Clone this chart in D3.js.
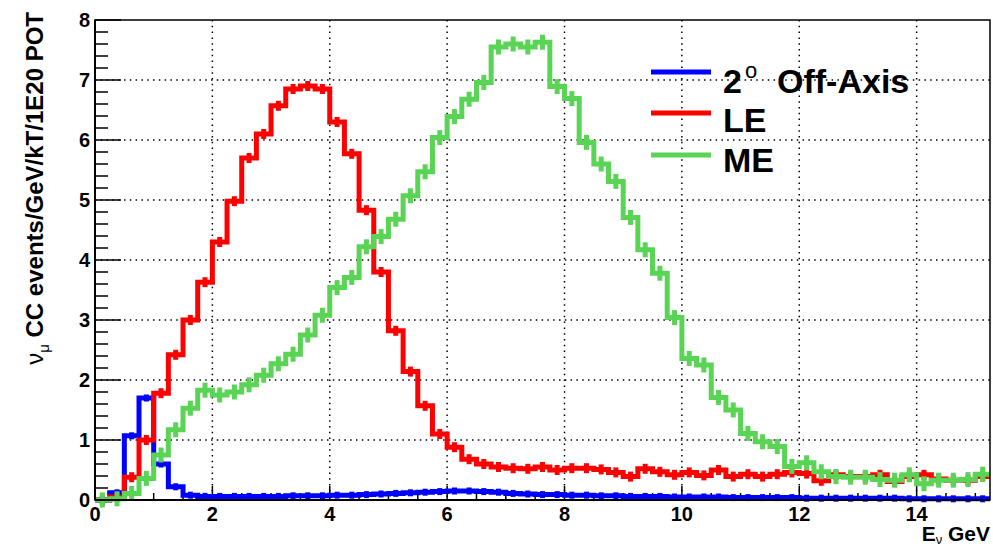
<!DOCTYPE html>
<html>
<head lang="en">
    <meta charset="UTF-8">
    <title>Neutrino spectra</title>
    <script type="text/javascript" src="https://cdn.jsdelivr.net/npm/d3@7"></script>
    <style>
        body { margin: 0; background: white; }
        text { font-family: "Liberation Sans", Arial, sans-serif; font-weight: bold; }
    </style>
</head>
<body>
<svg id="mainSvg"></svg>
<script>
    // histogram: 61 bins of 0.25 GeV starting at 0
    var binWidth = 0.25;
    var offAxis = [0, 0.12, 1.07, 1.7, 0.6, 0.22, 0.08, 0.06, 0.06, 0.06, 0.06, 0.06, 0.06, 0.07, 0.07, 0.07,
        0.08, 0.08, 0.09, 0.1, 0.11, 0.12, 0.13, 0.14, 0.15, 0.15, 0.14, 0.13, 0.11, 0.1, 0.09, 0.09,
        0.08, 0.08, 0.07, 0.07, 0.06, 0.06, 0.06, 0.05, 0.05, 0.05, 0.05, 0.04, 0.04, 0.04, 0.04, 0.04,
        0.03, 0.03, 0.03, 0.03, 0.03, 0.03, 0.03, 0.02, 0.02, 0.02, 0.02, 0.02, 0.02];
    var le = [0, 0.05, 0.38, 1.0, 1.78, 2.42, 3.0, 3.63, 4.3, 4.98, 5.7, 6.1, 6.57, 6.85, 6.9, 6.85,
        6.3, 5.77, 4.83, 3.8, 2.82, 2.14, 1.57, 1.1, 0.88, 0.68, 0.6, 0.55, 0.53, 0.52, 0.55, 0.5,
        0.53, 0.53, 0.51, 0.46, 0.39, 0.52, 0.47, 0.42, 0.46, 0.41, 0.5, 0.39, 0.43, 0.39, 0.43, 0.46,
        0.44, 0.32, 0.42, 0.39, 0.39, 0.42, 0.31, 0.39, 0.42, 0.35, 0.33, 0.33, 0.39];
    var me = [0, 0.02, 0.11, 0.36, 0.75, 1.17, 1.53, 1.83, 1.75, 1.8, 1.92, 2.08, 2.27, 2.43, 2.75, 3.08,
        3.54, 3.71, 4.22, 4.39, 4.68, 5.07, 5.47, 6.04, 6.39, 6.68, 6.96, 7.55, 7.6, 7.55, 7.63, 6.89,
        6.69, 5.96, 5.6, 5.31, 4.71, 4.17, 3.78, 3.04, 2.36, 2.25, 1.71, 1.5, 1.11, 0.97, 0.89, 0.56,
        0.62, 0.47, 0.39, 0.38, 0.38, 0.34, 0.33, 0.42, 0.27, 0.33, 0.33, 0.34, 0.43];

    var seriesNames = ["2 o Off-Axis", "LE", "ME"];
    var seriesColors = ["#0000ff", "#ff0000", "rgb(89,212,84)"];
    var seriesData = [offAxis, le, me];
    var errLen = [1, 2.5, 5];

    var xTicks = [0, 2, 4, 6, 8, 10, 12, 14];
    var yTicks = [0, 1, 2, 3, 4, 5, 6, 7, 8];

    var w = 993, h = 550;
    var padL = 95, padR = 990, padT = 20, padB = 500;

    var svg = d3.select("#mainSvg").attr("width", w).attr("height", h);

    var x = d3.scaleLinear().domain([0, 15.25]).range([padL, padR]);
    var y = d3.scaleLinear().domain([0, 8]).range([padB, padT]);

    // grid
    svg.append("g")
            .selectAll("line")
            .data(xTicks.slice(1))
            .enter()
            .append("line")
            .attr("x1", function (d) { return x(d); })
            .attr("x2", function (d) { return x(d); })
            .attr("y1", padT).attr("y2", padB)
            .attr("stroke", "black").attr("stroke-width", 1.5)
            .attr("stroke-dasharray", "1.5,4.3");
    svg.append("g")
            .selectAll("line")
            .data(yTicks.slice(1, -1))
            .enter()
            .append("line")
            .attr("y1", function (d) { return y(d); })
            .attr("y2", function (d) { return y(d); })
            .attr("x1", padL).attr("x2", padR)
            .attr("stroke", "black").attr("stroke-width", 1.5)
            .attr("stroke-dasharray", "1.5,4.3");

    // ticks
    var xMinor = d3.range(0, 15.25, 0.5);
    svg.append("g")
            .selectAll("line")
            .data(xMinor)
            .enter()
            .append("line")
            .attr("x1", function (d) { return x(d); })
            .attr("x2", function (d) { return x(d); })
            .attr("y1", padB)
            .attr("y2", function (d) { return padB - (d % 2 === 0 ? 14 : 7); })
            .attr("stroke", "black").attr("stroke-width", 1.5);
    var yMinor = d3.range(0, 8.01, 0.2);
    svg.append("g")
            .selectAll("line")
            .data(yMinor)
            .enter()
            .append("line")
            .attr("y1", function (d) { return y(d); })
            .attr("y2", function (d) { return y(d); })
            .attr("x1", padL)
            .attr("x2", function (d) { return padL + (Math.abs(d - Math.round(d)) < 0.01 ? 26 : 13); })
            .attr("stroke", "black").attr("stroke-width", 1.5);

    // histograms
    var line = d3.line()
            .x(function (d) { return x(d[0]); })
            .y(function (d) { return y(d[1]); })
            .curve(d3.curveStepAfter);

    seriesData.forEach(function (vals, k) {
        var pts = vals.map(function (v, i) { return [i * binWidth, v]; });
        pts.push([vals.length * binWidth, vals[vals.length - 1]]);
        var g = svg.append("g");
        g.append("path")
                .attr("d", line(pts))
                .attr("fill", "none")
                .attr("stroke", seriesColors[k])
                .attr("stroke-width", 5)
                .attr("stroke-linejoin", "miter");
        g.selectAll("line")
                .data(vals)
                .enter()
                .append("line")
                .attr("x1", function (d, i) { return x((i + 0.5) * binWidth); })
                .attr("x2", function (d, i) { return x((i + 0.5) * binWidth); })
                .attr("y1", function (d) { return y(d) - 2.5 - errLen[k]; })
                .attr("y2", function (d) { return y(d) + 2.5 + errLen[k]; })
                .attr("stroke", seriesColors[k])
                .attr("stroke-width", 5);
    });

    // frame
    svg.append("rect")
            .attr("x", padL).attr("y", padT)
            .attr("width", padR - padL).attr("height", padB - padT)
            .attr("fill", "none").attr("stroke", "black").attr("stroke-width", 1.5);
    svg.append("line").attr("x1", padL).attr("x2", padR).attr("y1", padB).attr("y2", padB)
            .attr("stroke", "black").attr("stroke-width", 2);
    svg.append("line").attr("x1", padL).attr("x2", padL).attr("y1", padT).attr("y2", padB)
            .attr("stroke", "black").attr("stroke-width", 2);

    // tick labels
    svg.selectAll("text.xlab")
            .data(xTicks)
            .enter()
            .append("text")
            .attr("class", "xlab")
            .attr("x", function (d) { return x(d); })
            .attr("y", 521)
            .attr("text-anchor", "middle")
            .attr("font-size", 20)
            .text(function (d) { return d; });
    svg.selectAll("text.ylab")
            .data(yTicks)
            .enter()
            .append("text")
            .attr("class", "ylab")
            .attr("x", 90)
            .attr("y", function (d) { return y(d) + 7; })
            .attr("text-anchor", "end")
            .attr("font-size", 20)
            .text(function (d) { return d; });

    // axis titles
    var xt = svg.append("text")
            .attr("x", padR).attr("y", 541)
            .attr("text-anchor", "end")
            .attr("font-size", 21);
    xt.append("tspan").text("E");
    xt.append("tspan").attr("dy", 3).attr("font-size", 13).attr("font-weight", "normal").text("\u03bd");
    xt.append("tspan").attr("dy", -3).text(" GeV");

    var yt = svg.append("text")
            .attr("transform", "translate(43,12) rotate(-90)")
            .attr("text-anchor", "end")
            .attr("font-size", 24);
    yt.append("tspan").attr("font-weight", "normal").text("\u03bd");
    yt.append("tspan").attr("dy", 6).attr("font-size", 15).attr("font-weight", "normal").text("\u03bc");
    yt.append("tspan").attr("dy", -6).text(" CC events/GeV/kT/1E20 POT");

    // legend
    var legY = [72, 113, 155];
    var textY = [93, 132, 172];
    seriesNames.forEach(function (name, k) {
        svg.append("line")
                .attr("x1", 651).attr("x2", 711)
                .attr("y1", legY[k]).attr("y2", legY[k])
                .attr("stroke", seriesColors[k]).attr("stroke-width", 5);
        var t = svg.append("text")
                .attr("x", 723).attr("y", textY[k])
                .attr("font-size", 34);
        if (k === 0) {
            t.append("tspan").text("2");
            t.append("tspan").attr("x", 745).attr("dy", -15).attr("font-size", 22).attr("font-weight", "normal").text("o");
            t.append("tspan").attr("x", 777).attr("dy", 15).text("Off-Axis");
        } else {
            t.text(name);
        }
    });
</script>
</body>
</html>
